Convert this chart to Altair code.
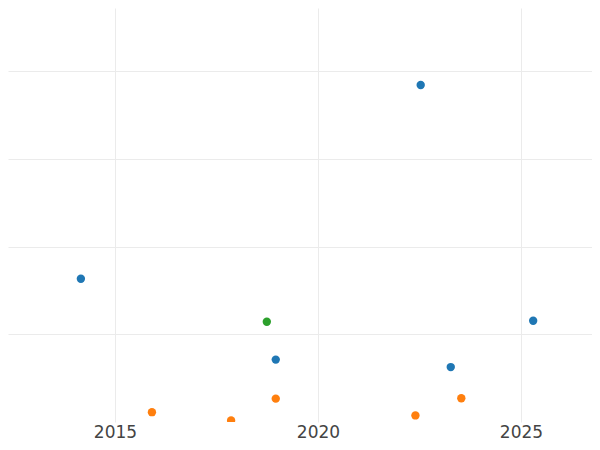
import altair as alt
import pandas as pd

years = [2014.16, 2015.91, 2022.53, 2025.30, 2023.27, 2023.53, 2022.40, 2018.74, 2018.96, 2018.96, 2017.86]
values = [1.633, 0.112, 3.84, 1.154, 0.626, 0.27, 0.075, 1.143, 0.711, 0.266, 0.017]
groups = ["A", "B", "A", "A", "A", "B", "B", "C", "A", "B", "B"]
group_names = ["A", "B", "C"]
group_colors = ["#1f77b4", "#ff7f0e", "#2ca02c"]

df = pd.DataFrame({"year": years, "value": values, "group": groups})

chart = alt.Chart(df).mark_circle(size=70, opacity=1, clip=True).encode(
    x=alt.X("year:Q",
            scale=alt.Scale(domain=[2012.365, 2026.749], nice=False, zero=False),
            axis=alt.Axis(values=[2015, 2020, 2025], format="d", title=None,
                          domain=False, ticks=False, labelFontSize=17,
                          labelColor="#444444", labelPadding=2,
                          labelFont="DejaVu Sans", gridColor="#ebebeb")),
    y=alt.Y("value:Q",
            scale=alt.Scale(domain=[0, 4.718], nice=False, zero=True),
            axis=alt.Axis(values=[1, 2, 3, 4], title=None, labels=False,
                          domain=False, ticks=False, gridColor="#ebebeb")),
    color=alt.Color("group:N", scale=alt.Scale(domain=group_names, range=group_colors),
                    legend=None),
).properties(
    width=584, height=414,
    autosize=alt.AutoSizeParams(type="none"),
    padding={"left": 0, "top": 0, "right": 0, "bottom": 20},
).configure_view(stroke=None)

chart.save("out.html", embed_options={"renderer": "svg", "actions": False})
